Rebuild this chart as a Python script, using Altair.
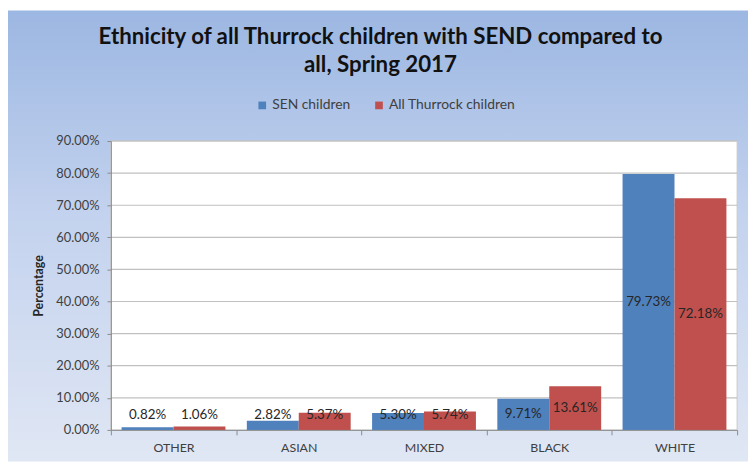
import altair as alt
import pandas as pd

categories = ["OTHER", "ASIAN", "MIXED", "BLACK", "WHITE"]
series_names = ["SEN children", "All Thurrock children"]
sen_values = [0.82, 2.82, 5.30, 9.71, 79.73]
all_values = [1.06, 5.37, 5.74, 13.61, 72.18]
y_ticks = [0, 10, 20, 30, 40, 50, 60, 70, 80, 90]
colors = ["#4f81bd", "#c0504d"]

rows = []
for c, s, a in zip(categories, sen_values, all_values):
    rows.append({"cat": c, "series": series_names[0], "value": s})
    rows.append({"cat": c, "series": series_names[1], "value": a})
df = pd.DataFrame(rows)
grid_df = pd.DataFrame({"tick": y_ticks[1:]})

W, H = 633, 292
PL, PT, PR, PB = 104, 132, 11, 32
FONT = "Lato"
Y_TITLE = "Percentage"

x_enc = alt.X("cat:N", sort=categories, title=None,
              scale=alt.Scale(paddingInner=0, paddingOuter=0),
              axis=alt.Axis(tickBand="extent", labelFont=FONT, labelFontSize=12.5,
                            labelColor="#404040", labelPadding=7, labelAngle=0,
                            domainColor="#8c8c8c", tickColor="#8c8c8c",
                            tickSize=5, zindex=1))
xo_enc = alt.XOffset("series:N", sort=series_names,
                     scale=alt.Scale(paddingInner=0, paddingOuter=0.206))
y_scale = alt.Scale(domain=[0, 90], nice=False)
y_axis = alt.Axis(values=y_ticks, grid=False, labelOverlap=False,
                  labelExpr="format(datum.value, '.2f') + '%'",
                  labelFont=FONT, labelFontSize=13, labelColor="#404040",
                  labelPadding=8, titleFont=FONT, titleFontSize=12.5,
                  titleFontWeight="bold", titleColor="#262626",
                  titlePadding=10, domainColor="#8c8c8c",
                  tickColor="#8c8c8c", tickSize=4, zindex=1)

bg = alt.Chart(alt.Data(values=[{}])).mark_rect(
    color=alt.LinearGradient(
        gradient="linear", x1=0, y1=0, x2=0, y2=1,
        stops=[alt.GradientStop(color="#9cb7e2", offset=0),
               alt.GradientStop(color="#c3d2ee", offset=0.45),
               alt.GradientStop(color="#e0e7f4", offset=1)])
).encode(x=alt.value(-PL), x2=alt.value(W + PR),
         y=alt.value(-PT), y2=alt.value(H + PB))

plot_bg = alt.Chart(alt.Data(values=[{}])).mark_rect(
    color="white", stroke="#c8c8c8", strokeWidth=1
).encode(x=alt.value(0), x2=alt.value(W), y=alt.value(0), y2=alt.value(H))

grid = alt.Chart(grid_df).mark_rule(color="#c0c0c0", strokeWidth=1.2).encode(
    y=alt.Y("tick:Q", scale=y_scale, title=Y_TITLE, axis=y_axis)
)

bars = alt.Chart(df).mark_bar().encode(
    x=x_enc,
    xOffset=xo_enc,
    y=alt.Y("value:Q", scale=y_scale, title=Y_TITLE, axis=y_axis),
    color=alt.Color("series:N", sort=series_names,
                    scale=alt.Scale(domain=series_names, range=colors),
                    legend=alt.Legend(title=None, orient="none", direction="horizontal",
                                      legendX=146, legendY=-43, symbolType="square",
                                      symbolSize=60, symbolStrokeWidth=0,
                                      labelFont=FONT, labelFontSize=14,
                                      labelColor="#404040", columnPadding=22,
                                      symbolOffset=0, labelOffset=3)),
)

labels = alt.Chart(df).transform_calculate(
    pos="max(datum.value / 2, 4.6)",
    txt="format(datum.value, '.2f') + '%'"
).mark_text(font=FONT, fontSize=13.5, color="#262626", baseline="middle").encode(
    x=x_enc,
    xOffset=xo_enc,
    y=alt.Y("pos:Q", scale=y_scale, title=Y_TITLE, axis=y_axis),
    text="txt:N",
)

chart = alt.layer(bg, plot_bg, grid, bars, labels).properties(
    width=W, height=H,
    padding={"left": PL, "top": PT, "right": PR, "bottom": PB},
    autosize=alt.AutoSizeParams(type="none"),
    title=alt.Title(
        text=["Ethnicity of all Thurrock children with SEND compared to",
              "all, Spring 2017"],
        font=FONT, fontSize=22.5, fontWeight="bold", color="#111111",
        anchor="middle", frame="group", dx=-44, offset=-67, lineHeight=29,
    ),
).configure_view(stroke=None).configure(background="white")

chart.save("out.html", embed_options={"renderer": "svg", "actions": False})
